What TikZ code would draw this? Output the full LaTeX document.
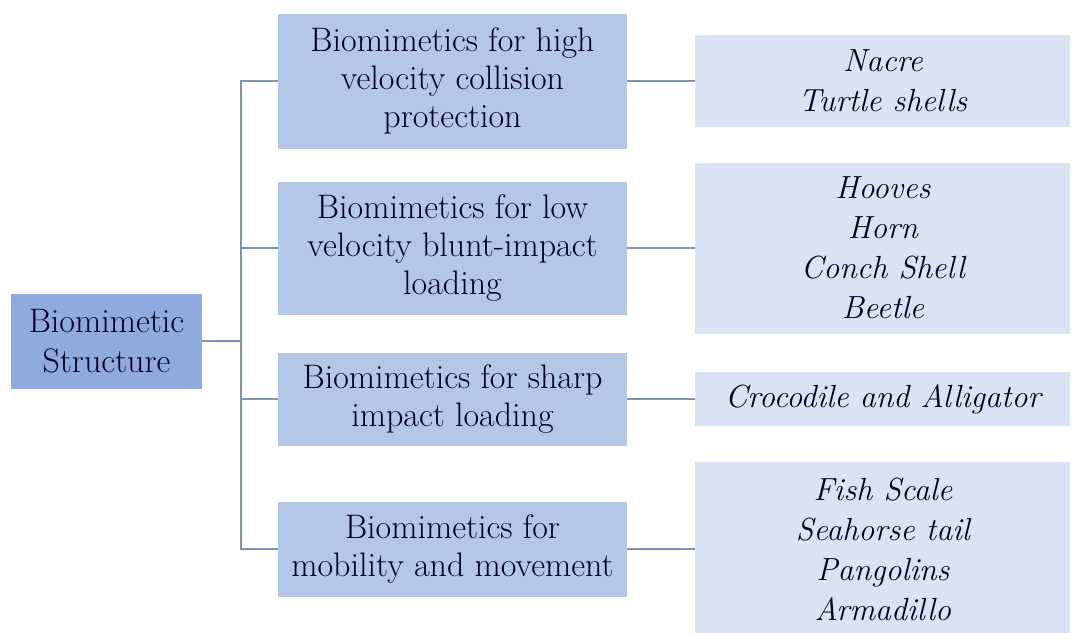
\documentclass[tikz,border=0pt]{standalone}
\usepackage{fontspec}
\usetikzlibrary{positioning}

\definecolor{rootblue}{HTML}{8FAADC}
\definecolor{midblue}{HTML}{B4C7E7}
\definecolor{leafblue}{HTML}{DAE3F3}
\definecolor{linkgray}{HTML}{7F93B0}

\tikzset{
   box/.style={inner sep=0pt, align=center, text=black!85!blue},
   rootbox/.style={box, fill=rootblue, minimum width=191pt, minimum height=95pt,
      font=\fontsize{34}{40}\selectfont},
   midbox/.style={box, fill=midblue, minimum width=349pt,
      font=\fontsize{34}{38}\selectfont},
   leafbox/.style={box, fill=leafblue, minimum width=375pt,
      font=\fontsize{32}{40}\selectfont\itshape},
   link/.style={draw=linkgray, line width=1.5pt}
}

\begin{document}
\begin{tikzpicture}[x=1pt,y=-1pt]
   \useasboundingbox (0,0) rectangle (1073,632);

   \node (S) [rootbox] at (106.5,341) {Biomimetic\\Structure};

   \node (H) [midbox, minimum height=135pt] at (452.5,81)
      {Biomimetics for high\\velocity collision\\protection};
   \node (L) [midbox, minimum height=133pt] at (452.5,248)
      {Biomimetics for low\\velocity blunt-impact\\loading};
   \node (K) [midbox, minimum height=93pt] at (452.5,399)
      {Biomimetics for sharp\\impact loading};
   \node (M) [midbox, minimum height=95pt] at (452.5,549)
      {Biomimetics for\\mobility and movement};

   \node (HL) [leafbox, minimum height=92pt, right=68pt of H]
      {Nacre\\Turtle shells};
   \node (LL) [leafbox, minimum height=171pt, right=68pt of L]
      {Hooves\\Horn\\Conch Shell\\Beetle};
   \node (KL) [leafbox, minimum height=54pt, right=68pt of K]
      {Crocodile and Alligator};
   \node (ML) [leafbox, minimum height=174pt, right=68pt of M]
      {Fish Scale\\Seahorse tail\\Pangolins\\Armadillo};

   \draw[link] (H.west) -- ++(-37,0) coordinate (T) -- (T |- M.west) -- (M.west);
   \draw[link] (S.east) -- (S.east -| T);
   \draw[link] (L.west) -- (L.west -| T);
   \draw[link] (K.west) -- (K.west -| T);

   \path[link]
     (H) edge (HL)
     (L) edge (LL)
     (K) edge (KL)
     (M) edge (ML);
  \end{tikzpicture}
\end{document}
